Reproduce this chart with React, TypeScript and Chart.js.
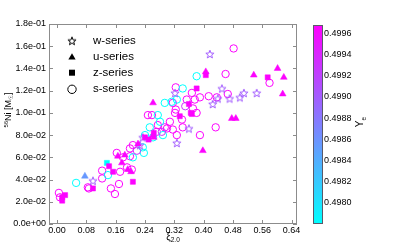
import React, { useEffect, useRef } from 'react';
import { Chart, registerables } from 'chart.js';

Chart.register(...registerables);

const FONT = '"Liberation Sans", Arial, Helvetica, sans-serif';

// axis ticks
const xTicks = [0, 0.08, 0.16, 0.24, 0.32, 0.4, 0.48, 0.56, 0.64];
const yTicks = [0, 0.02, 0.04, 0.06, 0.08, 0.1, 0.12, 0.14, 0.16, 0.18];
const yeTicks = [0.498, 0.4982, 0.4984, 0.4986, 0.4988, 0.499, 0.4992, 0.4994, 0.4996];
const yeMin = 0.4978;
const yeMax = 0.49968;

const seriesNames = ['w-series', 'u-series', 'z-series', 's-series'];

// u-series (filled triangles)
const uXi = [0.076, 0.166, 0.177, 0.193, 0.202, 0.221, 0.264, 0.262, 0.406, 0.537, 0.602, 0.619, 0.616, 0.477, 0.488, 0.398, 0.185, 0.262];
const uNi = [0.043, 0.061, 0.055, 0.049, 0.047, 0.072, 0.078, 0.109, 0.137, 0.134, 0.140, 0.132, 0.117, 0.095, 0.095, 0.066, 0.062, 0.080];
const uYe = [0.49856, 0.49966, 0.49966, 0.49966, 0.49966, 0.49966, 0.49966, 0.49966, 0.49966, 0.49966, 0.49966, 0.49966, 0.49966, 0.49966, 0.49966, 0.49966, 0.49966, 0.49966];

// z-series (filled squares)
const zXi = [0.022, 0.014, 0.014, 0.098, 0.136, 0.142, 0.153, 0.207, 0.240, 0.264, 0.335, 0.368, 0.360, 0.365, 0.381, 0.406, 0.575, 0.250];
const zNi = [0.026, 0.024, 0.021, 0.032, 0.055, 0.052, 0.047, 0.038, 0.078, 0.082, 0.097, 0.099, 0.108, 0.100, 0.122, 0.134, 0.132, 0.076];
const zYe = [0.49966, 0.49966, 0.49966, 0.49966, 0.4978, 0.49966, 0.49966, 0.49966, 0.49966, 0.49966, 0.49966, 0.49966, 0.49966, 0.49966, 0.49966, 0.49966, 0.49966, 0.49966];

// w-series (open stars)
const wXi = [0.098, 0.417, 0.450, 0.510, 0.499, 0.471, 0.545, 0.439, 0.322, 0.360, 0.327, 0.234, 0.226, 0.425];
const wNi = [0.039, 0.153, 0.122, 0.118, 0.114, 0.113, 0.118, 0.113, 0.118, 0.086, 0.073, 0.078, 0.071, 0.108];
const wYe = [0.4990, 0.4990, 0.4990, 0.4990, 0.4990, 0.4990, 0.4990, 0.4990, 0.4990, 0.4990, 0.4990, 0.4990, 0.4990, 0.4990];

// s-series (open circles)
const sXi = [
  0.005, 0.008, 0.084, 0.087, 0.123, 0.123, 0.147, 0.158, 0.169, 0.180, 0.199, 0.191, 0.163, 0.199, 0.207,
  0.275, 0.294, 0.259, 0.248, 0.324, 0.368, 0.414, 0.436, 0.390, 0.376, 0.316, 0.354, 0.324, 0.371, 0.381,
  0.322, 0.308, 0.300, 0.341, 0.316, 0.343, 0.390, 0.327, 0.272, 0.482, 0.460, 0.580, 0.466, 0.433, 0.172, 0.204,
  0.052, 0.139, 0.207, 0.234, 0.237, 0.240, 0.262, 0.253, 0.281, 0.289, 0.275, 0.294, 0.313, 0.327, 0.343, 0.381,
  0.218, 0.286, 0.350,
];
const sNi = [
  0.028, 0.024, 0.033, 0.032, 0.048, 0.041, 0.032, 0.027, 0.036, 0.060, 0.061, 0.051, 0.064, 0.068, 0.071,
  0.089, 0.087, 0.098, 0.098, 0.123, 0.118, 0.115, 0.114, 0.114, 0.112, 0.109, 0.112, 0.103, 0.104, 0.100,
  0.100, 0.092, 0.086, 0.094, 0.085, 0.087, 0.080, 0.080, 0.083, 0.158, 0.135, 0.127, 0.117, 0.087, 0.047, 0.049,
  0.037, 0.044, 0.060, 0.069, 0.064, 0.080, 0.078, 0.087, 0.092, 0.080, 0.098, 0.109, 0.110, 0.112, 0.122, 0.133,
  0.066, 0.083, 0.106,
];
const sYe = [
  0.49966, 0.49966, 0.49966, 0.49966, 0.49966, 0.49966, 0.49966, 0.49966, 0.49966, 0.49966, 0.49966, 0.49966, 0.49966, 0.49966, 0.49966,
  0.49966, 0.49966, 0.49966, 0.49966, 0.49966, 0.49966, 0.49966, 0.49966, 0.49966, 0.49966, 0.49966, 0.49966, 0.49966, 0.49966, 0.49966,
  0.49966, 0.49966, 0.49966, 0.49966, 0.49966, 0.49966, 0.49966, 0.49966, 0.49966, 0.49966, 0.49966, 0.49966, 0.49966, 0.49966, 0.49966, 0.49966,
  0.4978, 0.4978, 0.4978, 0.4978, 0.4978, 0.4978, 0.4978, 0.4978, 0.4978, 0.4978, 0.4978, 0.4978, 0.4978, 0.4978, 0.4978, 0.4978,
  0.4993, 0.4993, 0.4993,
];

function yeColor(v: number): string {
  const t = Math.max(0, Math.min(1, (v - yeMin) / (yeMax - yeMin)));
  return `rgb(${Math.round(255 * t)},${Math.round(255 * (1 - t))},255)`;
}

const starCache: Record<string, HTMLCanvasElement> = {};
function starCanvas(color: string, r = 4.3): HTMLCanvasElement {
  const key = color + '|' + r;
  if (starCache[key]) return starCache[key];
  const c = document.createElement('canvas');
  const size = Math.ceil(r * 2 + 3);
  c.width = size;
  c.height = size;
  const g = c.getContext('2d')!;
  const cx = size / 2;
  const cy = size / 2 + 0.5;
  g.beginPath();
  for (let k = 0; k < 10; k++) {
    const rr = k % 2 === 0 ? r : r * 0.42;
    const a = -Math.PI / 2 + (k * Math.PI) / 5;
    const px = cx + rr * Math.cos(a);
    const py = cy + rr * Math.sin(a);
    if (k === 0) g.moveTo(px, py);
    else g.lineTo(px, py);
  }
  g.closePath();
  g.strokeStyle = color;
  g.lineWidth = 1;
  g.stroke();
  starCache[key] = c;
  return c;
}

function pts(xs: number[], ys: number[]) {
  return xs.map((x, i) => ({ x, y: ys[i] }));
}

function fmtExp(v: number): string {
  v = Math.round(v * 1e8) / 1e8;
  if (v === 0) return '0.0e+00';
  const e = Math.floor(Math.log10(v) + 1e-9);
  const m = v / Math.pow(10, e);
  const sign = e < 0 ? '-' : '+';
  const ae = Math.abs(e);
  return `${m.toFixed(1)}e${sign}${ae < 10 ? '0' + ae : ae}`;
}

function drawParts(ctx: CanvasRenderingContext2D, parts: { t: string; size: number; dy: number }[], cx: number, cy: number) {
  let total = 0;
  for (const p of parts) {
    ctx.font = `${p.size}px ${FONT}`;
    total += ctx.measureText(p.t).width;
  }
  let x = cx - total / 2;
  for (const p of parts) {
    ctx.font = `${p.size}px ${FONT}`;
    ctx.fillText(p.t, x, cy + p.dy);
    x += ctx.measureText(p.t).width;
  }
}

const overlayPlugin = {
  id: 'overlay',
  beforeDatasetsDraw(chart: any) {
    const { ctx, chartArea } = chart;
    const { left, right, top, bottom } = chartArea;
    const xs = chart.scales.x;
    const ys = chart.scales.y;
    ctx.save();
    ctx.strokeStyle = '#8c8c8c';
    ctx.lineWidth = 1;
    ctx.strokeRect(left + 0.5, top + 0.5, right - left - 1, bottom - top - 1);
    ctx.beginPath();
    const tl = 4;
    for (const v of xTicks) {
      const px = Math.round(xs.getPixelForValue(v)) + 0.5;
      ctx.moveTo(px, bottom);
      ctx.lineTo(px, bottom - tl);
      ctx.moveTo(px, top);
      ctx.lineTo(px, top + tl);
    }
    for (const v of yTicks) {
      const py = Math.round(ys.getPixelForValue(v)) + 0.5;
      ctx.moveTo(left, py);
      ctx.lineTo(left + tl, py);
      ctx.moveTo(right, py);
      ctx.lineTo(right - tl, py);
    }
    ctx.stroke();
    ctx.restore();
  },
  afterDraw(chart: any) {
    const { ctx } = chart;
    ctx.save();
    ctx.fillStyle = '#000';
    ctx.textBaseline = 'alphabetic';
    ctx.textAlign = 'left';

    // x title
    drawParts(ctx, [
      { t: '\u03BE', size: 10, dy: 0 },
      { t: '2.0', size: 6.5, dy: 2 },
    ], 173, 240);

    // y title (rotated)
    ctx.save();
    ctx.translate(11, 110);
    ctx.rotate(-Math.PI / 2);
    drawParts(ctx, [
      { t: '56', size: 6, dy: -3.5 },
      { t: 'Ni [M', size: 9, dy: 0 },
      { t: '\u2609', size: 6, dy: 2 },
      { t: ']', size: 9, dy: 0 },
    ], 0, 0);
    ctx.restore();

    // legend
    const legX = 72;
    const legTextX = 93;
    const legY = [40.7, 56.7, 72.7, 89.3];
    ctx.fillStyle = '#000';
    ctx.strokeStyle = '#000';
    ctx.lineWidth = 1;
    // star
    const st = starCanvas('#000', 4.3);
    ctx.drawImage(st, legX - st.width / 2, legY[0] - st.height / 2);
    // triangle
    ctx.beginPath();
    const tr = 4.2;
    for (let k = 0; k < 3; k++) {
      const a = -Math.PI / 2 + (k * 2 * Math.PI) / 3;
      const px = legX + tr * Math.cos(a);
      const py = legY[1] + 0.8 + tr * Math.sin(a);
      if (k === 0) ctx.moveTo(px, py);
      else ctx.lineTo(px, py);
    }
    ctx.closePath();
    ctx.fill();
    // square
    ctx.fillRect(legX - 3, legY[2] - 3, 6, 6);
    // circle
    ctx.beginPath();
    ctx.arc(legX, legY[3], 4.2, 0, Math.PI * 2);
    ctx.stroke();
    ctx.font = `11.5px ${FONT}`;
    ctx.textBaseline = 'middle';
    seriesNames.forEach((n, i) => ctx.fillText(n, legTextX, legY[i]));

    // colorbar
    const cbL = 313;
    const cbR = 323;
    const cbT = 25;
    const cbB = 224;
    const grad = ctx.createLinearGradient(0, cbB, 0, cbT);
    grad.addColorStop(0, yeColor(yeMin));
    grad.addColorStop(1, yeColor(yeMax));
    ctx.fillStyle = grad;
    ctx.fillRect(cbL, cbT, cbR - cbL, cbB - cbT);
    ctx.strokeStyle = '#5a5a6a';
    ctx.strokeRect(cbL + 0.5, cbT + 0.5, cbR - cbL - 1, cbB - cbT - 1);
    ctx.fillStyle = '#000';
    ctx.font = `9px ${FONT}`;
    ctx.textBaseline = 'middle';
    for (const v of yeTicks) {
      const py = cbB - ((v - yeMin) / (yeMax - yeMin)) * (cbB - cbT);
      ctx.fillText(v.toFixed(4), cbR + 1, py);
    }

    // colorbar title (rotated)
    ctx.textBaseline = 'alphabetic';
    ctx.save();
    ctx.translate(363, 122);
    ctx.rotate(-Math.PI / 2);
    drawParts(ctx, [
      { t: 'Y', size: 10, dy: 0 },
      { t: 'e', size: 6.5, dy: 2.5 },
    ], 0, 0);
    ctx.restore();

    ctx.restore();
  },
};

export default function App() {
  const ref = useRef<HTMLCanvasElement | null>(null);

  useEffect(() => {
    if (!ref.current) return;
    Chart.defaults.font.family = FONT;
    const chart = new Chart(ref.current, {
      type: 'scatter',
      data: {
        datasets: [
          {
            label: 'u-series',
            data: pts(uXi, uNi),
            pointStyle: 'triangle',
            pointRadius: 3.9,
            pointBackgroundColor: uYe.map(yeColor),
            pointBorderColor: uYe.map(yeColor),
            pointBorderWidth: 0.5,
          },
          {
            label: 'z-series',
            data: pts(zXi, zNi),
            pointStyle: 'rect',
            pointRadius: 3.6,
            pointBackgroundColor: zYe.map(yeColor),
            pointBorderColor: zYe.map(yeColor),
            pointBorderWidth: 0.5,
          },
          {
            label: 'w-series',
            data: pts(wXi, wNi),
            pointStyle: wYe.map((v) => starCanvas(yeColor(v))),
            pointRadius: 4,
          },
          {
            label: 's-series',
            data: pts(sXi, sNi),
            pointStyle: 'circle',
            pointRadius: 3.7,
            pointBackgroundColor: 'rgba(0,0,0,0)',
            pointBorderColor: sYe.map(yeColor),
            pointBorderWidth: 1,
          },
        ],
      },
      options: {
        responsive: false,
        animation: false,
        devicePixelRatio: 1,
        events: [],
        layout: { padding: { left: 0, top: 24, right: 102, bottom: 0 } },
        plugins: {
          legend: { display: false },
          tooltip: { enabled: false },
          title: { display: false },
        },
        scales: {
          x: {
            type: 'linear',
            min: -0.022,
            max: 0.655,
            afterBuildTicks: (s: any) => {
              s.ticks = xTicks.map((v) => ({ value: v }));
            },
            afterFit: (s: any) => {
              s.height = 25;
            },
            grid: { display: false, drawTicks: false },
            border: { display: false },
            ticks: {
              font: { size: 9, family: FONT },
              color: '#000',
              padding: 1,
              maxRotation: 0,
              autoSkip: false,
              callback: (v: any) => Number(v).toFixed(2),
            },
          },
          y: {
            type: 'linear',
            min: 0,
            max: 0.18,
            afterBuildTicks: (s: any) => {
              s.ticks = yTicks.map((v) => ({ value: v }));
            },
            afterFit: (s: any) => {
              s.width = 49;
            },
            grid: { display: false, drawTicks: false },
            border: { display: false },
            ticks: {
              font: { size: 9, family: FONT },
              color: '#000',
              padding: 3,
              autoSkip: false,
              callback: (v: any) => fmtExp(Number(v)),
            },
          },
        },
      },
      plugins: [overlayPlugin],
    } as any);
    return () => chart.destroy();
  }, []);

  return (
    <div style={{ position: 'fixed', left: 0, top: 0, width: 399, height: 249, background: '#fff' }}>
      <canvas ref={ref} width={399} height={249} style={{ display: 'block', width: 399, height: 249 }} />
    </div>
  );
}
